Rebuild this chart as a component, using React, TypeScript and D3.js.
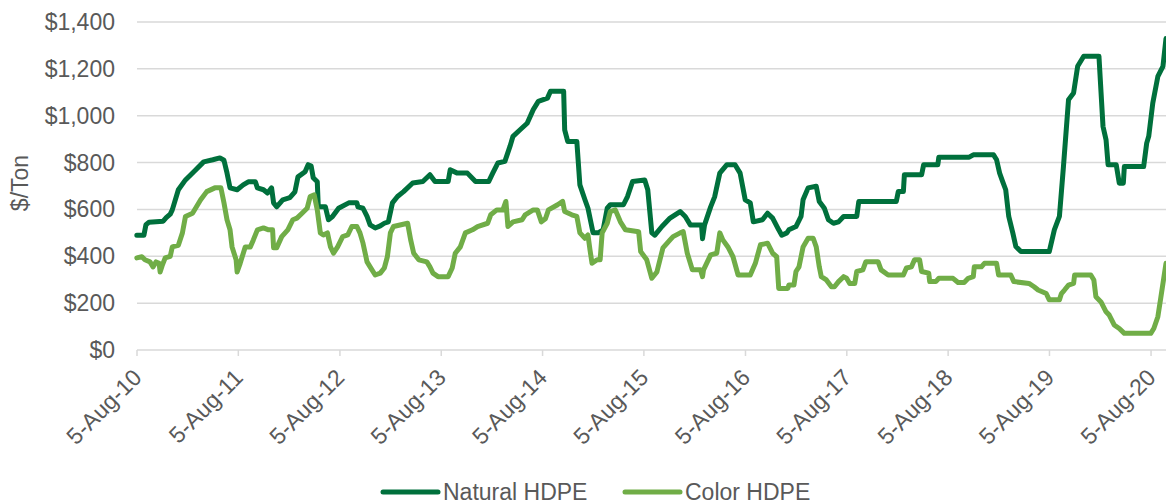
import React from 'react';
import * as d3 from 'd3';

// [decimal year, $/ton]
const naturalHDPE: [number, number][] = [
  [2010.59, 490], [2010.66, 490], [2010.68, 535], [2010.71, 545], [2010.85, 550], [2010.88, 565],
  [2010.92, 580], [2010.94, 598], [2011.0, 684], [2011.07, 726], [2011.15, 760], [2011.25, 803],
  [2011.34, 812], [2011.41, 820], [2011.45, 810], [2011.48, 756], [2011.51, 692], [2011.58, 684],
  [2011.64, 705], [2011.69, 718], [2011.76, 718], [2011.78, 692], [2011.84, 684], [2011.88, 670],
  [2011.92, 692], [2011.94, 628], [2011.97, 611], [2012.03, 641], [2012.1, 650], [2012.15, 675],
  [2012.18, 739], [2012.25, 761], [2012.28, 791], [2012.31, 785], [2012.33, 735], [2012.37, 718],
  [2012.38, 611], [2012.45, 611], [2012.48, 556], [2012.52, 570], [2012.58, 605], [2012.68, 628],
  [2012.76, 628], [2012.77, 611], [2012.82, 605], [2012.86, 570], [2012.89, 534], [2012.94, 521],
  [2012.99, 530], [2013.03, 541], [2013.07, 547], [2013.11, 628], [2013.16, 655], [2013.22, 676],
  [2013.31, 713], [2013.41, 719], [2013.48, 748], [2013.53, 719], [2013.66, 719], [2013.68, 769],
  [2013.75, 755], [2013.85, 755], [2013.93, 719], [2014.06, 719], [2014.1, 755], [2014.15, 798],
  [2014.22, 805], [2014.27, 869], [2014.3, 912], [2014.37, 940], [2014.44, 968], [2014.5, 1026],
  [2014.55, 1061], [2014.64, 1075], [2014.67, 1104], [2014.8, 1104], [2014.81, 940], [2014.84, 890],
  [2014.93, 890], [2014.96, 705], [2015.01, 641], [2015.04, 605], [2015.09, 500], [2015.14, 500],
  [2015.19, 513], [2015.23, 605], [2015.26, 620], [2015.39, 620], [2015.43, 655], [2015.48, 719],
  [2015.6, 726], [2015.63, 684], [2015.67, 500], [2015.7, 490], [2015.77, 527], [2015.85, 563],
  [2015.95, 591], [2016.0, 570], [2016.05, 534], [2016.16, 534], [2016.17, 475], [2016.19, 534],
  [2016.25, 611], [2016.29, 655], [2016.34, 755], [2016.41, 791], [2016.49, 791], [2016.54, 755],
  [2016.59, 641], [2016.64, 628], [2016.67, 547], [2016.76, 556], [2016.81, 584], [2016.86, 563],
  [2016.92, 513], [2016.95, 490], [2017.0, 500], [2017.02, 513], [2017.09, 527], [2017.14, 570],
  [2017.16, 641], [2017.21, 692], [2017.29, 699], [2017.32, 634], [2017.37, 605], [2017.41, 556],
  [2017.46, 541], [2017.51, 547], [2017.56, 570], [2017.69, 570], [2017.71, 634], [2018.08, 634],
  [2018.1, 676], [2018.15, 676], [2018.16, 748], [2018.33, 748], [2018.35, 791], [2018.49, 791],
  [2018.5, 823], [2018.8, 823], [2018.84, 833], [2019.04, 833], [2019.07, 812], [2019.1, 755],
  [2019.13, 719], [2019.16, 684], [2019.19, 570], [2019.23, 500], [2019.26, 442], [2019.31, 420],
  [2019.59, 420], [2019.64, 513], [2019.69, 570], [2019.73, 783], [2019.78, 1068], [2019.83, 1097],
  [2019.87, 1211], [2019.93, 1254], [2020.08, 1254], [2020.12, 954], [2020.15, 897], [2020.17, 791],
  [2020.25, 791], [2020.28, 712], [2020.32, 712], [2020.33, 783], [2020.52, 783], [2020.55, 883],
  [2020.57, 912], [2020.61, 1054], [2020.66, 1168], [2020.71, 1211], [2020.74, 1330],
];

const colorHDPE: [number, number][] = [
  [2010.59, 393], [2010.64, 398], [2010.67, 385], [2010.72, 376], [2010.75, 355], [2010.78, 376],
  [2010.81, 370], [2010.82, 333], [2010.84, 360], [2010.87, 393], [2010.92, 400], [2010.94, 440],
  [2011.0, 447], [2011.04, 500], [2011.07, 570], [2011.14, 584], [2011.22, 641], [2011.28, 676],
  [2011.36, 692], [2011.42, 692], [2011.45, 628], [2011.48, 556], [2011.51, 513], [2011.53, 440],
  [2011.57, 385], [2011.58, 333], [2011.61, 370], [2011.66, 440], [2011.71, 440], [2011.74, 470],
  [2011.78, 513], [2011.84, 521], [2011.89, 513], [2011.93, 513], [2011.94, 436], [2011.97, 436],
  [2012.02, 484], [2012.08, 513], [2012.13, 556], [2012.17, 563], [2012.22, 584], [2012.27, 605],
  [2012.3, 655], [2012.34, 662], [2012.37, 598], [2012.4, 500], [2012.43, 491], [2012.47, 500],
  [2012.5, 440], [2012.53, 413], [2012.57, 440], [2012.62, 484], [2012.67, 491], [2012.71, 527],
  [2012.76, 527], [2012.79, 500], [2012.82, 456], [2012.86, 376], [2012.89, 355], [2012.94, 320],
  [2012.99, 328], [2013.03, 350], [2013.06, 398], [2013.09, 500], [2013.12, 527], [2013.26, 541],
  [2013.29, 470], [2013.32, 413], [2013.37, 385], [2013.45, 376], [2013.48, 355], [2013.51, 328],
  [2013.56, 313], [2013.66, 313], [2013.7, 350], [2013.73, 413], [2013.78, 440], [2013.83, 500],
  [2013.9, 513], [2013.95, 527], [2014.05, 541], [2014.08, 577], [2014.14, 598], [2014.2, 598],
  [2014.23, 634], [2014.25, 527], [2014.3, 547], [2014.39, 556], [2014.42, 577], [2014.5, 598],
  [2014.54, 598], [2014.58, 547], [2014.62, 560], [2014.65, 598], [2014.74, 620], [2014.79, 634],
  [2014.81, 591], [2014.88, 577], [2014.93, 570], [2014.96, 500], [2015.01, 477], [2015.04, 491],
  [2015.06, 427], [2015.08, 370], [2015.13, 385], [2015.16, 385], [2015.18, 500], [2015.23, 541],
  [2015.26, 591], [2015.31, 598], [2015.36, 547], [2015.41, 513], [2015.54, 505], [2015.56, 420],
  [2015.62, 385], [2015.67, 306], [2015.72, 333], [2015.75, 385], [2015.78, 436], [2015.85, 470],
  [2015.88, 484], [2015.95, 500], [2015.98, 505], [2016.02, 413], [2016.07, 342], [2016.15, 342],
  [2016.17, 313], [2016.18, 342], [2016.25, 406], [2016.31, 413], [2016.34, 500], [2016.37, 470],
  [2016.42, 440], [2016.47, 398], [2016.52, 320], [2016.64, 320], [2016.69, 370], [2016.74, 449],
  [2016.81, 456], [2016.86, 413], [2016.9, 398], [2016.92, 263], [2017.01, 263], [2017.02, 277],
  [2017.07, 277], [2017.09, 335], [2017.12, 355], [2017.16, 440], [2017.21, 477], [2017.26, 477],
  [2017.29, 440], [2017.32, 355], [2017.34, 313], [2017.39, 299], [2017.44, 270], [2017.47, 270],
  [2017.51, 292], [2017.56, 313], [2017.59, 306], [2017.62, 284], [2017.67, 284], [2017.69, 335],
  [2017.75, 342], [2017.78, 377], [2017.9, 377], [2017.93, 342], [2018.0, 320], [2018.15, 320],
  [2018.18, 350], [2018.23, 355], [2018.26, 385], [2018.31, 385], [2018.33, 335], [2018.4, 328],
  [2018.41, 292], [2018.47, 292], [2018.5, 306], [2018.64, 306], [2018.69, 288], [2018.75, 288],
  [2018.79, 306], [2018.84, 313], [2018.85, 355], [2018.92, 355], [2018.95, 370], [2019.07, 370],
  [2019.09, 320], [2019.21, 320], [2019.24, 292], [2019.39, 284], [2019.44, 270], [2019.48, 256],
  [2019.56, 241], [2019.59, 214], [2019.69, 214], [2019.71, 241], [2019.74, 256], [2019.78, 277],
  [2019.83, 284], [2019.84, 320], [2020.0, 320], [2020.03, 299], [2020.05, 227], [2020.1, 205],
  [2020.15, 163], [2020.18, 150], [2020.23, 107], [2020.28, 92], [2020.33, 71], [2020.59, 71],
  [2020.62, 92], [2020.66, 142], [2020.69, 227], [2020.74, 370],
];

const yTicks = [0, 200, 400, 600, 800, 1000, 1200, 1400];
const xTickYears = [2010, 2011, 2012, 2013, 2014, 2015, 2016, 2017, 2018, 2019, 2020];
const seriesNames = ['Natural HDPE', 'Color HDPE'];
const seriesColors = ['#00703C', '#70AD47'];
const axisTitle = '$/Ton';
const endDate = 2020.74;

const monthNames = ['Jan', 'Feb', 'Mar', 'Apr', 'May', 'Jun', 'Jul', 'Aug', 'Sep', 'Oct', 'Nov', 'Dec'];

function decToDate(y: number): Date {
  const yr = Math.floor(y);
  const s = new Date(yr, 0, 1).getTime();
  const e = new Date(yr + 1, 0, 1).getTime();
  return new Date(s + (y - yr) * (e - s));
}

const W = 1166;
const H = 502;
const FONT = '"Liberation Sans", Arial, sans-serif';
const TEXT = '#595959';
const GRID = '#D9D9D9';

export default function App() {
  const x = d3
    .scaleTime()
    .domain([new Date(2010, 7, 5), decToDate(endDate)])
    .range([137, 1166]);
  const y = d3.scaleLinear().domain([0, 1400]).range([350, 22]);
  const line = d3
    .line<[number, number]>()
    .x((d) => x(decToDate(d[0])))
    .y((d) => y(d[1]));
  const fmt = d3.format(',');
  const tickDates = xTickYears.map((yr) => new Date(yr, 7, 5));
  const tickLabel = (d: Date) =>
    `${d.getDate()}-${monthNames[d.getMonth()]}-${String(d.getFullYear()).slice(2)}`;
  const series = [naturalHDPE, colorHDPE];
  const legendX = [383, 625];

  return (
    <svg
      width={W}
      height={H}
      style={{ position: 'absolute', left: 0, top: 0, background: '#fff' }}
      fontFamily={FONT}
    >
      {yTicks.map((t) => (
        <g key={t}>
          <line x1={137} x2={W} y1={y(t)} y2={y(t)} stroke={GRID} strokeWidth={1.5} />
          <text x={115} y={y(t)} dy="0.35em" textAnchor="end" fontSize={23} fill={TEXT}>
            {'$' + fmt(t)}
          </text>
        </g>
      ))}
      {tickDates.map((d, i) => (
        <g key={i}>
          <line x1={x(d)} x2={x(d)} y1={y(0)} y2={y(0) + 6} stroke={GRID} strokeWidth={1.5} />
          <text
            transform={`translate(${x(d) + 6},${y(0) + 29}) rotate(-45)`}
            textAnchor="end"
            fontSize={23}
            fill={TEXT}
          >
            {tickLabel(d)}
          </text>
        </g>
      ))}
      <text
        transform={`translate(28,183) rotate(-90)`}
        textAnchor="middle"
        fontSize={23}
        fill={TEXT}
      >
        {axisTitle}
      </text>
      {series.map((s, i) => (
        <path
          key={i}
          d={line(s) || ''}
          fill="none"
          stroke={seriesColors[i]}
          strokeWidth={5}
          strokeLinejoin="round"
          strokeLinecap="round"
        />
      ))}
      {seriesNames.map((n, i) => (
        <g key={n}>
          <line
            x1={legendX[i]}
            x2={legendX[i] + 55}
            y1={492}
            y2={492}
            stroke={seriesColors[i]}
            strokeWidth={5}
            strokeLinecap="round"
          />
          <text x={legendX[i] + 60} y={500} fontSize={23} fill={TEXT}>
            {n}
          </text>
        </g>
      ))}
    </svg>
  );
}
